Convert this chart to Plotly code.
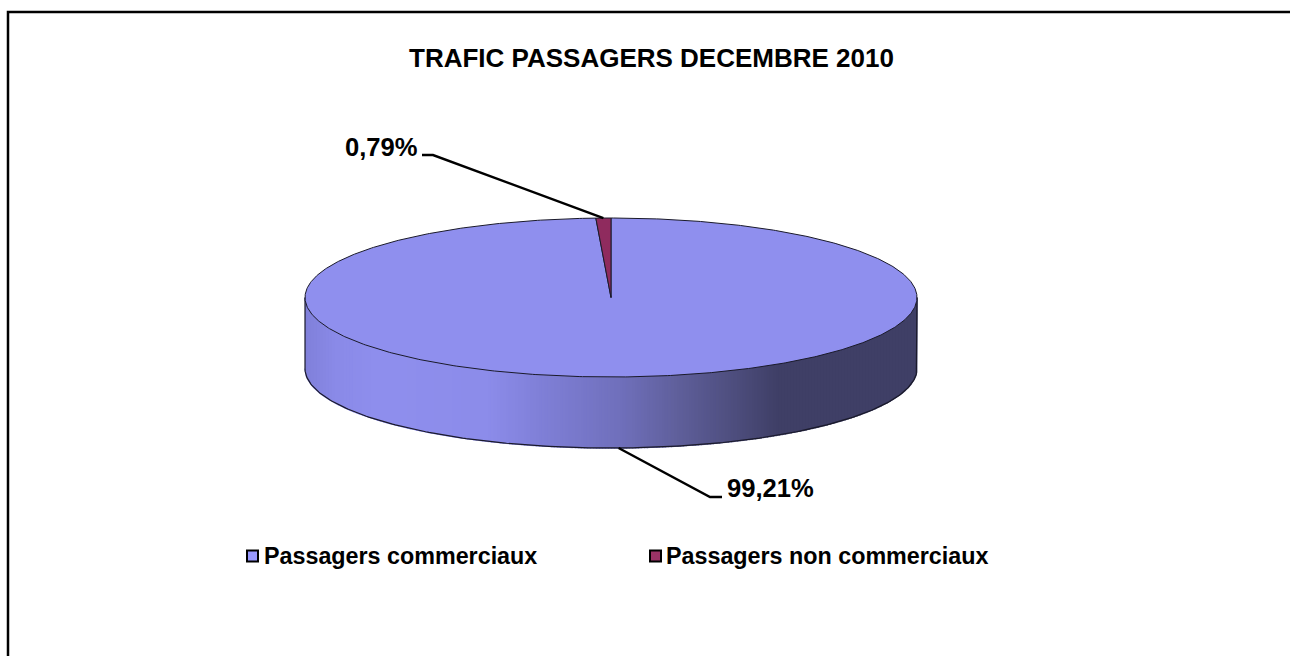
import numpy as np
import plotly.graph_objects as go

# ---- data ----
categories = ["Passagers commerciaux", "Passagers non commerciaux"]
values = [99.21, 0.79]
value_labels = ["99,21%", "0,79%"]
title_text = "TRAFIC PASSAGERS DECEMBRE 2010"

# ---- style / layout (pixel space of the 1290x656 page) ----
W, H = 1290, 656
CX, CY, RX, RY, DEPTH = 611.0, 297.5, 306.0, 79.5, 71.0
TOP_COLORS = ["#8f8fee", "#8f2b5e"]
SWATCH_COLORS = ["#9999ff", "#993366"]
FONT = "Liberation Sans"
EDGE = "#1a1a2a"
# side-wall shading: fraction across the pie width -> colour
SHADE_POS = [0.0, 0.05, 0.12, 0.30, 0.384, 0.515, 0.613, 0.776, 1.0]
SHADE_RGB = [(128, 128, 218), (138, 138, 232), (143, 143, 238), (140, 140, 234),
             (128, 128, 216), (112, 112, 188), (95, 95, 154), (63, 63, 102), (63, 63, 102)]
N_STRIPS = 204


def pt(theta, drop=0.0):
    """theta in radians, clockwise from the top of the ellipse."""
    return CX + RX * np.sin(theta), CY - RY * np.cos(theta) + drop


fracs = np.array(values) / sum(values)
ends = np.cumsum(fracs) * 2 * np.pi
starts = ends - fracs * 2 * np.pi

fig = go.Figure()

# side wall as thin shaded strips of equal width across the front of the ellipse
u_edges = np.linspace(0, 1, N_STRIPS + 1)
edges = np.pi + np.arcsin(1 - 2 * u_edges)  # u=0 left rim -> u=1 right rim
for u0, u1, a0, a1 in zip(u_edges[:-1], u_edges[1:], edges[:-1], edges[1:]):
    th = np.linspace(a0, a1, 4)
    xt, yt = pt(th)
    xb, yb = pt(th[::-1], DEPTH)
    u = (u0 + u1) / 2
    rgb = [np.interp(u, SHADE_POS, [c[i] for c in SHADE_RGB]) for i in range(3)]
    col = "rgb(%d,%d,%d)" % tuple(rgb)
    fig.add_trace(go.Scatter(x=np.r_[xt, xb], y=np.r_[yt, yb], mode="lines", fill="toself",
                             fillcolor=col, line=dict(color=col, width=1.5),
                             showlegend=False, hoverinfo="skip"))

# outline of the wall
th = np.linspace(np.pi / 2, 3 * np.pi / 2, 240)
xb, yb = pt(th, DEPTH)
xr, yr = pt(np.pi / 2)
xl, yl = pt(3 * np.pi / 2)
fig.add_trace(go.Scatter(x=np.r_[xr, xb, xl], y=np.r_[yr, yb, yl], mode="lines",
                         line=dict(color=EDGE, width=1.2), showlegend=False, hoverinfo="skip"))

# top-face slices
for name, a0, a1, col in zip(categories, starts, ends, TOP_COLORS):
    th = np.linspace(a0, a1, max(3, int(720 * (a1 - a0) / (2 * np.pi))))
    xs, ys = pt(th)
    fig.add_trace(go.Scatter(x=np.r_[CX, xs, CX], y=np.r_[CY, ys, CY], mode="lines", fill="toself",
                             fillcolor=col, line=dict(color=EDGE, width=1), name=name,
                             showlegend=False, hoverinfo="name"))

# leader lines, anchored at each slice's mid-angle
mids = (starts + ends) / 2
ax0, ay0 = pt(mids[0], DEPTH)
ax1, ay1 = pt(mids[1])
fig.add_trace(go.Scatter(x=[ax0, 710, 722], y=[ay0, 497, 497], mode="lines",
                         line=dict(color="black", width=2.4), showlegend=False, hoverinfo="skip"))
fig.add_trace(go.Scatter(x=[ax1, 433, 422], y=[ay1, 155, 155], mode="lines",
                         line=dict(color="black", width=2.4), showlegend=False, hoverinfo="skip"))

# legend swatches
LEG_X = [252.5, 655.5]
LEG_TEXT_X = [262, 664]
LEG_Y = 556
for name, x, col in zip(categories, LEG_X, SWATCH_COLORS):
    fig.add_trace(go.Scatter(x=[x], y=[LEG_Y], mode="markers", name=name,
                             marker=dict(symbol="square", size=11, color=col,
                                         line=dict(color="black", width=2)),
                             showlegend=False, hoverinfo="name"))

ann = [
    dict(x=651, y=58, text="<b>%s</b>" % title_text, font=dict(size=26), xanchor="center"),
    dict(x=420, y=147, text="<b>%s</b>" % value_labels[1], font=dict(size=25.6), xanchor="right"),
    dict(x=725, y=488, text="<b>%s</b>" % value_labels[0], font=dict(size=25.6), xanchor="left"),
]
for name, x in zip(categories, LEG_TEXT_X):
    ann.append(dict(x=x, y=LEG_Y, text="<b>%s</b>" % name, font=dict(size=23.3), xanchor="left"))
for a in ann:
    a.update(xref="x", yref="y", yanchor="middle", showarrow=False)
    a["font"].update(family=FONT, color="black")

fig.update_layout(
    width=W, height=H, margin=dict(l=0, r=0, t=0, b=0, pad=0),
    paper_bgcolor="white", plot_bgcolor="white", showlegend=False,
    xaxis=dict(range=[0, W], visible=False, fixedrange=True),
    yaxis=dict(range=[H, 0], visible=False, fixedrange=True),
    annotations=ann,
    shapes=[dict(type="rect", xref="x", yref="y", x0=8, y0=12, x1=W + 20, y1=H + 20,
                 line=dict(color="black", width=2.5), fillcolor="rgba(0,0,0,0)", layer="below")],
)
fig.write_html("out.html", config=dict(displayModeBar=False),
               post_script="document.body.style.margin='0';")
